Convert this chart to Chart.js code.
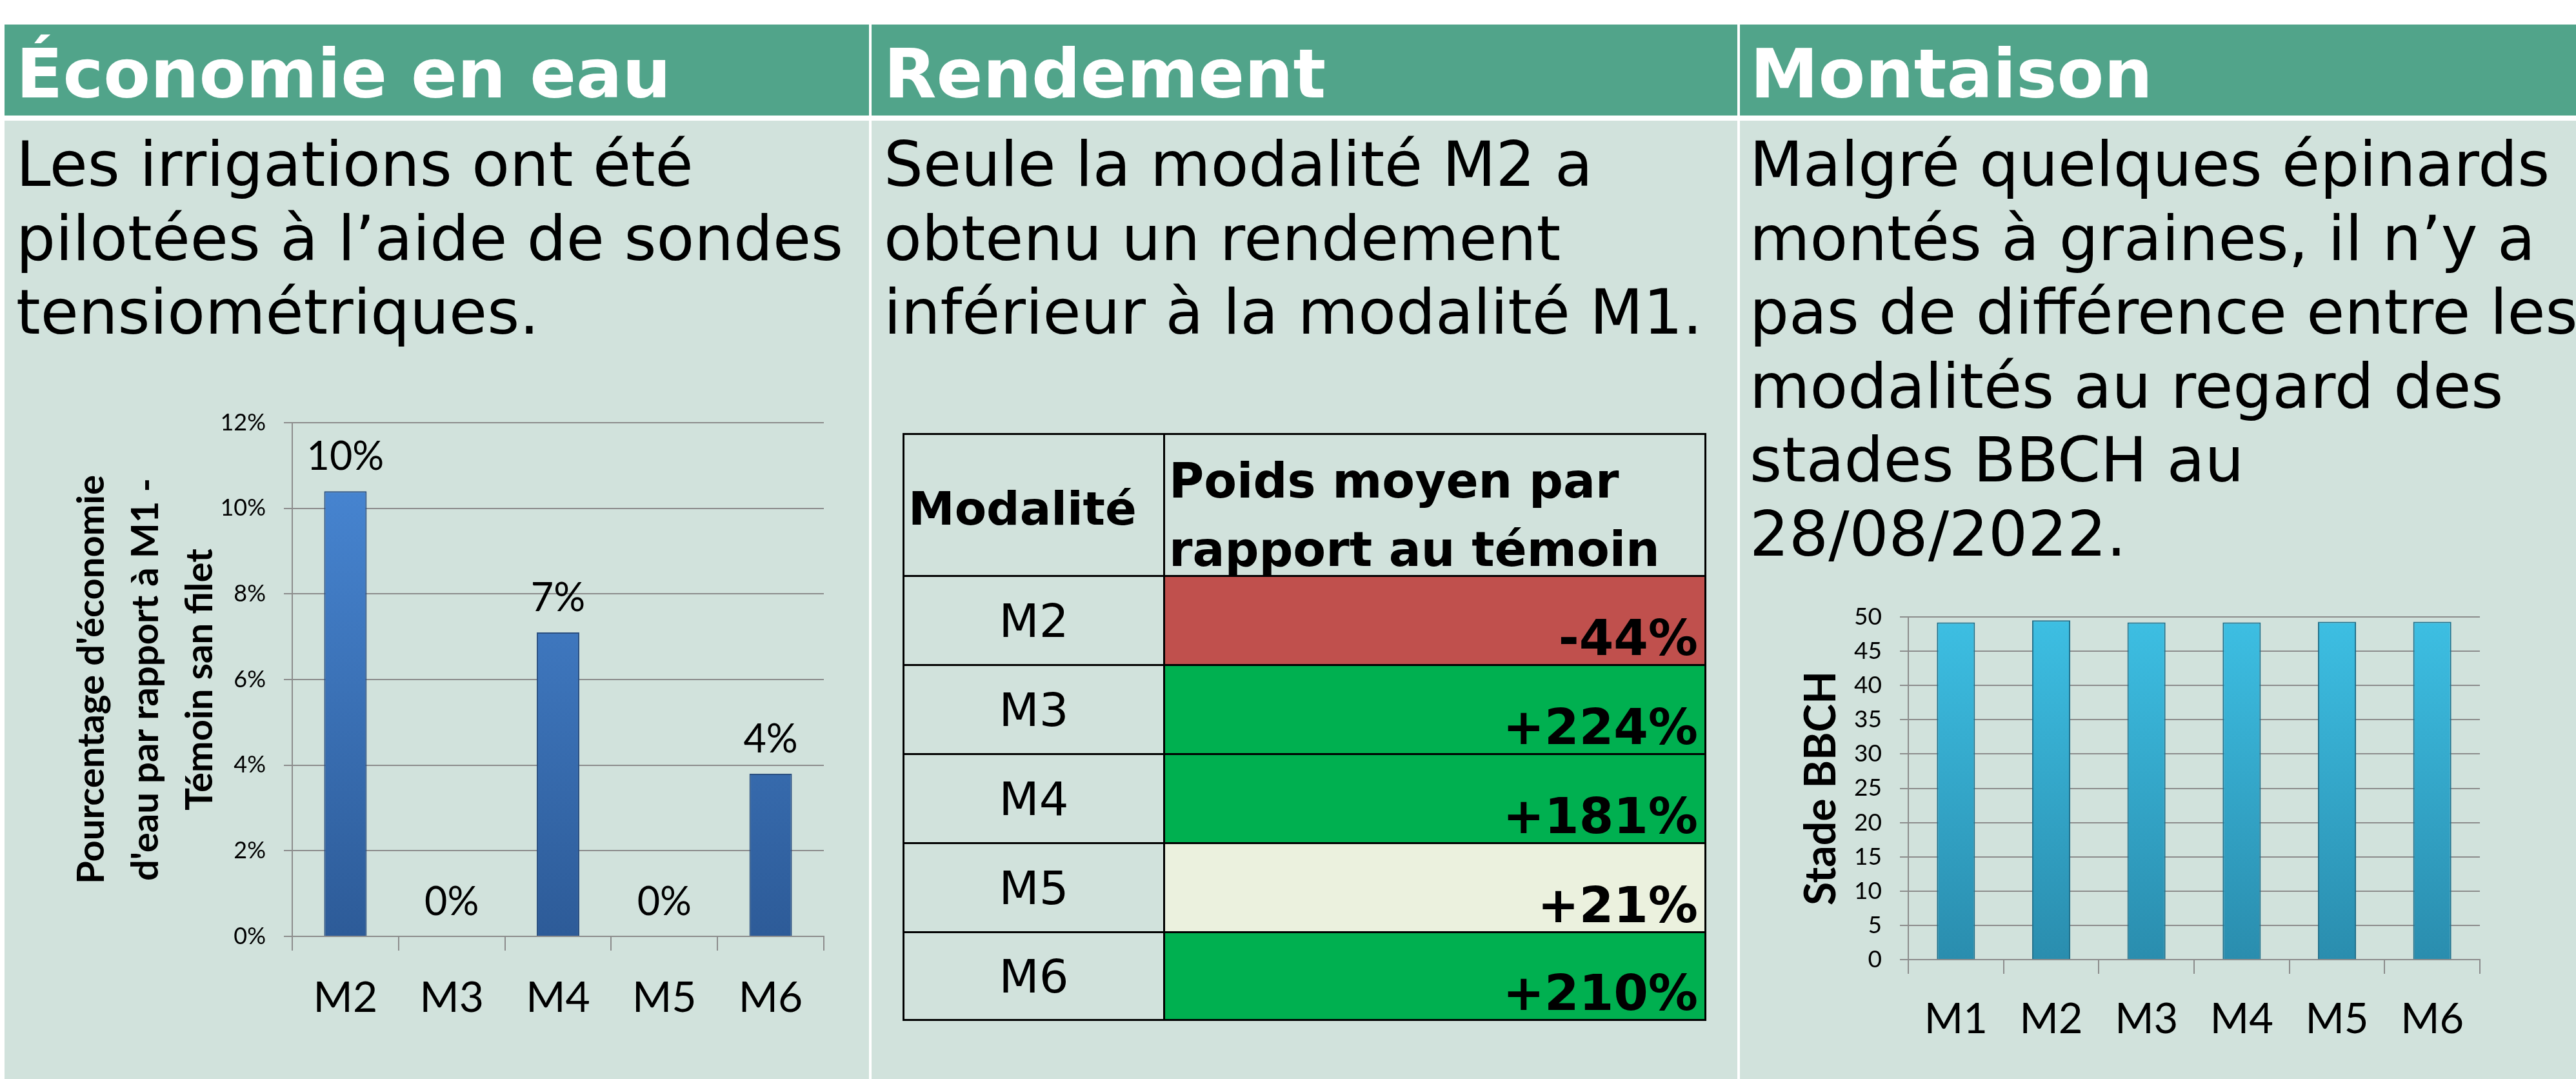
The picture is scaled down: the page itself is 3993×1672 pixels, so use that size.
<!DOCTYPE html>
<html lang="fr">
<head>
<meta charset="utf-8">
<script src="https://cdn.jsdelivr.net/npm/chart.js@4.4.1/dist/chart.umd.min.js"></script>
<style>
  html, body { margin: 0; padding: 0; }
  body { width: 3993px; height: 1672px; background: #fff; position: relative; overflow: hidden; font-family: "DejaVu Sans", Verdana, sans-serif; }
  .head { position: absolute; top: 38px; height: 141px; background: #51a48a; }
  .panel { position: absolute; top: 187px; height: 1485px; background: #d1e2dc; }
  .title { position: absolute; top: 62px; font-weight: bold; font-size: 106px; line-height: 106px; color: #fff; white-space: nowrap; }
  .text { position: absolute; top: 198px; font-size: 96px; line-height: 114.5px; color: #000; white-space: nowrap; }
  .chartBox { position: absolute; }
  #table { position: absolute; left: 1399px; top: 671px; width: 1246px; height: 911px; box-sizing: border-box;
           border: 3px solid #000; display: grid; grid-template-columns: 404px 836px;
           grid-template-rows: 220px 138px 138px 138px 138px 133px; }
  #table div { box-sizing: border-box; color: #000; }
  .c1 { border-right: 3px solid #000; }
  .rb { border-bottom: 3px solid #000; }
</style>
</head>
<body>
<div class="head" style="left:7px;width:1340px"></div>
<div class="head" style="left:1351px;width:1342px"></div>
<div class="head" style="left:2697px;width:1296px"></div>
<div class="panel" style="left:7px;width:1340px"></div>
<div class="panel" style="left:1351px;width:1342px"></div>
<div class="panel" style="left:2697px;width:1296px"></div>

<div class="title" style="left:25px">Économie en eau</div>
<div class="title" style="left:1370px">Rendement</div>
<div class="title" style="left:2713px">Montaison</div>

<div class="text" style="left:25px">Les irrigations ont été<br>pilotées à l’aide de sondes<br>tensiométriques.</div>
<div class="text" style="left:1370px">Seule la modalité M2 a<br>obtenu un rendement<br>inférieur à la modalité M1.</div>
<div class="text" style="left:2712px">Malgré quelques épinards<br>montés à graines, il n’y a<br>pas de différence entre les<br>modalités au regard des<br>stades BBCH au<br>28/08/2022.</div>

<div class="chartBox" style="left:40px;top:595px;width:1250px;height:1065px"><canvas id="eau"></canvas></div>
<div id="table"></div>
<div class="chartBox" style="left:2720px;top:896px;width:1137px;height:764px"><canvas id="bbch"></canvas></div>

<script>
// Économie en eau (% par rapport à M1)
const eauLabels = ["M2", "M3", "M4", "M5", "M6"];
const eauValues = [10.4, 0, 7.1, 0, 3.8];

// Rendement : poids moyen par rapport au témoin (%)
const rendLabels = ["M2", "M3", "M4", "M5", "M6"];
const rendValues = [-44, 224, 181, 21, 210];

// Montaison : stade BBCH au 28/08/2022
const bbchLabels = ["M1", "M2", "M3", "M4", "M5", "M6"];
const bbchValues = [49.2, 49.5, 49.2, 49.2, 49.3, 49.3];

const grey = "#8c8c8c";

function barFill(top, bottom) {
  return (ctx) => {
    const area = ctx.chart.chartArea;
    if (!area) return top;
    const g = ctx.chart.ctx.createLinearGradient(0, area.top, 0, area.bottom);
    g.addColorStop(0, top);
    g.addColorStop(1, bottom);
    return g;
  };
}

const valueLabels = {
  id: "valueLabels",
  afterDatasetsDraw(chart) {
    const c = chart.ctx;
    c.save();
    c.font = "61px Lato";
    c.fillStyle = "#000";
    c.textAlign = "center";
    c.textBaseline = "alphabetic";
    chart.getDatasetMeta(0).data.forEach((bar, i) => {
      c.fillText(Math.round(eauValues[i]) + "%", bar.x, bar.y - 33);
    });
    c.restore();
  }
};

new Chart(document.getElementById("eau"), {
  type: "bar",
  data: {
    labels: eauLabels,
    datasets: [{
      data: eauValues,
      backgroundColor: barFill("#4a8ad8", "#2d5b98"),
      borderColor: "#2a4f80",
      borderWidth: 2,
      categoryPercentage: 1,
      barPercentage: 0.4
    }]
  },
  options: {
    responsive: true,
    maintainAspectRatio: false,
    animation: false,
    layout: { padding: { top: 60, right: 13 } },
    plugins: { legend: { display: false }, tooltip: { enabled: false } },
    scales: {
      x: {
        grid: { offset: true, drawOnChartArea: false, tickLength: 22, color: grey, lineWidth: 2 },
        border: { color: grey, width: 2 },
        ticks: { font: { family: "Lato", size: 66 }, color: "#000", padding: 34 },
        afterFit(s) { s.height = 209; }
      },
      y: {
        min: 0, max: 12,
        grid: { color: grey, lineWidth: 2, tickLength: 13 },
        border: { color: grey, width: 2 },
        ticks: { stepSize: 2, font: { family: "Lato", size: 36 }, color: "#000", padding: 28,
                 callback: (v) => v + "%" },
        title: {
          display: true,
          text: ["Pourcentage d'économie", "d'eau par rapport à M1 -", "Témoin san filet"],
          font: { family: "Lato", size: 58, weight: "bold", lineHeight: 1.45 },
          color: "#000",
          padding: { top: 60 }
        },
        afterFit(s) { s.width = 413; }
      }
    }
  },
  plugins: [valueLabels]
});

new Chart(document.getElementById("bbch"), {
  type: "bar",
  data: {
    labels: bbchLabels,
    datasets: [{
      data: bbchValues,
      backgroundColor: barFill("#3dbfe3", "#2a8dae"),
      borderColor: "#1f6f8a",
      borderWidth: 2,
      categoryPercentage: 1,
      barPercentage: 0.4
    }]
  },
  options: {
    responsive: true,
    maintainAspectRatio: false,
    animation: false,
    layout: { padding: { top: 60, right: 13 } },
    plugins: { legend: { display: false }, tooltip: { enabled: false } },
    scales: {
      x: {
        grid: { offset: true, drawOnChartArea: false, tickLength: 22, color: grey, lineWidth: 2 },
        border: { color: grey, width: 2 },
        ticks: { font: { family: "Lato", size: 65 }, color: "#000", padding: 32 },
        afterFit(s) { s.height = 173; }
      },
      y: {
        min: 0, max: 50,
        grid: { color: grey, lineWidth: 2, tickLength: 13 },
        border: { color: grey, width: 2 },
        ticks: { stepSize: 5, font: { family: "Lato", size: 37 }, color: "#000", padding: 28 },
        title: {
          display: true,
          text: "Stade BBCH",
          font: { family: "Lato", size: 66, weight: "bold", lineHeight: 1.2 },
          color: "#000",
          padding: { top: 64 }
        },
        afterFit(s) { s.width = 238; }
      }
    }
  }
});

// tableau du rendement
const table = document.getElementById("table");
function cell(html, cls, style) {
  const d = document.createElement("div");
  d.className = cls;
  d.innerHTML = html;
  d.style.cssText = style;
  table.appendChild(d);
}
cell("Modalité", "c1 rb", "font-weight:bold;font-size:72px;line-height:72px;padding:78px 0 0 6px;");
cell("Poids moyen par<br>rapport au témoin", "rb", "font-weight:bold;font-size:74px;line-height:106px;padding:18px 0 0 6px;white-space:nowrap;");
rendLabels.forEach((lab, i) => {
  const last = i === rendLabels.length - 1;
  const v = rendValues[i];
  const bg = v < 0 ? "#c0504d" : (v < 100 ? "#ebf1de" : "#00b050");
  cell(lab, "c1" + (last ? "" : " rb"), "font-size:72px;display:flex;align-items:center;justify-content:center;");
  cell((v < 0 ? "" : "+") + v + "%", last ? "" : "rb",
       "background:" + bg + ";font-weight:bold;font-size:77px;line-height:77px;display:flex;align-items:flex-end;justify-content:flex-end;padding:0 10px 2px 0;");
});
</script>
</body>
</html>
